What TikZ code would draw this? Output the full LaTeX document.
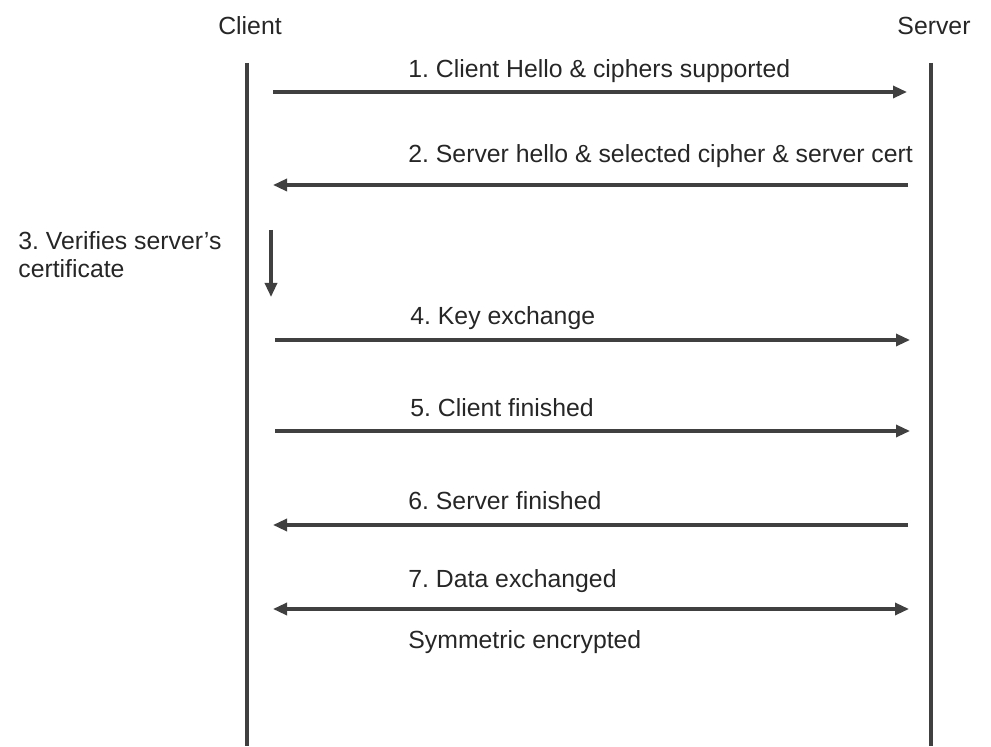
\documentclass[tikz,border=0pt]{standalone}
\usepackage{fontspec}
\setmainfont{Liberation Sans}
\usetikzlibrary{positioning, arrows.meta}
\definecolor{lineclr}{HTML}{404040}
\definecolor{txtclr}{HTML}{262626}
\frenchspacing
\begin{document}
\begin{tikzpicture}[x=0.5pt, y=0.5pt,
        msg/.style={draw=lineclr, line width=1.6pt, -{Triangle[length=7pt, width=6pt]}},
        lifeline/.style={draw=lineclr, line width=1.6pt},
        lbl/.style={anchor=west, inner sep=0pt, text=txtclr, font=\fontsize{12.4}{14}\selectfont},
        actor/.style={inner sep=0pt, text=txtclr, font=\fontsize{12.4}{14}\selectfont}]

        \useasboundingbox (0,0) rectangle (991,-747);

        % Participantes
        \node (client) [actor] at (250,-26) {Client};
        \node (server) [actor] at (934,-26) {Server};

        % Linhas de vida
        \coordinate (ctop) at (247,-63);
        \coordinate (cbot) at (247,-746);
        \coordinate (stop) at (931,-63);
        \coordinate (sbot) at (931,-746);
        \draw[lifeline] (ctop) -- (cbot);
        \draw[lifeline] (stop) -- (sbot);

        % Extremos das mensagens
        \coordinate (c1) at (273,-92);   \coordinate (s1) at (907,-92);
        \coordinate (c2) at (273,-185);  \coordinate (s2) at (908,-185);
        \coordinate (v3a) at (271,-230); \coordinate (v3b) at (271,-297);
        \coordinate (c4) at (275,-340);  \coordinate (s4) at (910,-340);
        \coordinate (c5) at (275,-431);  \coordinate (s5) at (910,-431);
        \coordinate (c6) at (273,-525);  \coordinate (s6) at (908,-525);
        \coordinate (c7) at (273,-609);  \coordinate (s7) at (909,-609);

        % Mensagens
        \draw[msg] (c1) -- (s1);
        \draw[msg] (s2) -- (c2);
        \draw[msg] (v3a) -- (v3b);
        \draw[msg] (c4) -- (s4);
        \draw[msg] (c5) -- (s5);
        \draw[msg] (s6) -- (c6);
        \draw[msg, {Triangle[length=7pt, width=6pt]}-{Triangle[length=7pt, width=6pt]}] (c7) -- (s7);

        % Rótulos
        \node (l1) [lbl] at (408,-71) {1. Client Hello \& ciphers supported};
        \node (l2) [lbl] at (408,-156) {2. Server hello \& selected cipher \& server cert};
        \node (l3) [lbl, align=left] at (18,-255) {3. Verifies server’s\\certificate};
        \node (l4) [lbl] at (410,-318) {4. Key exchange};
        \node (l5) [lbl] at (410,-408) {5. Client finished};
        \node (l6) [lbl] at (408,-501) {6. Server finished};
        \node (l7) [lbl] at (408,-581) {7. Data exchanged};
        \node (enc) [lbl] at (408,-642) {Symmetric encrypted};

    \end{tikzpicture}
\end{document}
